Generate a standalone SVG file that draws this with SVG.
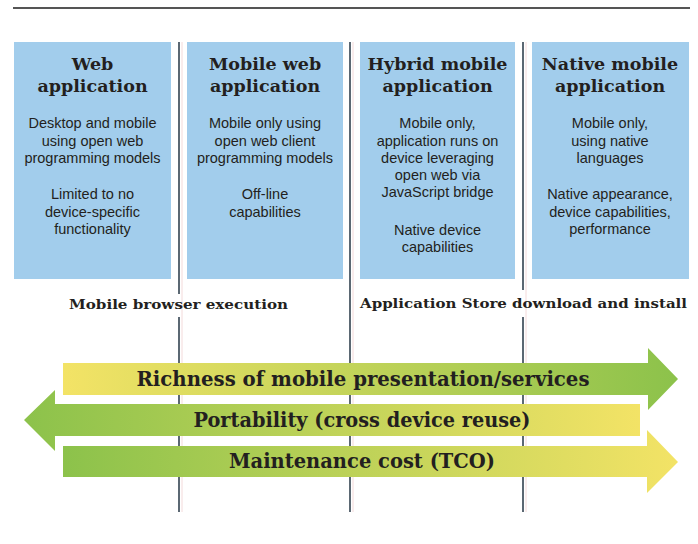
<svg xmlns="http://www.w3.org/2000/svg" width="698" height="544" viewBox="0 0 698 544">
<style>
.box{fill:#a2cdec}
.title{font-family:"DejaVu Serif",serif;font-weight:bold;font-size:17.5px;fill:#231f20;text-anchor:middle}
.body{font-family:"Liberation Sans",Arial,sans-serif;font-size:14.5px;fill:#231f20;text-anchor:middle}
.sect{font-family:"DejaVu Serif",serif;font-weight:bold;font-size:13px;fill:#231f20}
.arrtxt{font-family:"DejaVu Serif",serif;font-weight:bold;font-size:20px;fill:#231f20;text-anchor:middle}
.vline{stroke:#5b6873;stroke-width:2;fill:none}
.vpink{stroke:#f3dada;stroke-width:1;fill:none}
</style>
<defs>
<linearGradient id="ygr" x1="0" y1="0" x2="1" y2="0">
<stop offset="0" stop-color="#f3e366"/>
<stop offset="1" stop-color="#8cc24b"/>
</linearGradient>
<linearGradient id="gry" x1="0" y1="0" x2="1" y2="0">
<stop offset="0" stop-color="#8cc24b"/>
<stop offset="1" stop-color="#f3e366"/>
</linearGradient>
</defs>
<rect width="698" height="544" fill="#ffffff"/>
<line x1="13" y1="8" x2="690" y2="8" stroke="#555" stroke-width="2"/>

<g id="dividers">
<line class="vpink" x1="182" y1="42" x2="182" y2="512"/>
<line class="vpink" x1="353" y1="42" x2="353" y2="512"/>
<line class="vpink" x1="526" y1="42" x2="526" y2="512"/>
<path class="vline" d="M179 42V294M179 317V512"/>
<path class="vline" d="M350 42V512"/>
<path class="vline" d="M523 42V290M523 317V512"/>
</g>

<g id="web-application">
<rect class="box" x="14" y="42" width="157" height="237"/>
<text class="title" x="92.5" y="70">Web</text>
<text class="title" x="92.5" y="92">application</text>
<text class="body" x="92.5" y="128">Desktop and mobile</text>
<text class="body" x="92.5" y="146">using open web</text>
<text class="body" x="92.5" y="163">programming models</text>
<text class="body" x="92.5" y="199">Limited to no</text>
<text class="body" x="92.5" y="217">device-specific</text>
<text class="body" x="92.5" y="234">functionality</text>
</g>

<g id="mobile-web-application">
<rect class="box" x="187" y="42" width="156" height="237"/>
<text class="title" x="265" y="70">Mobile web</text>
<text class="title" x="265" y="92">application</text>
<text class="body" x="265" y="128">Mobile only using</text>
<text class="body" x="265" y="146">open web client</text>
<text class="body" x="265" y="163">programming models</text>
<text class="body" x="265" y="199">Off-line</text>
<text class="body" x="265" y="217">capabilities</text>
</g>

<g id="hybrid-mobile-application">
<rect class="box" x="360" y="42" width="155" height="237"/>
<text class="title" x="437.5" y="70">Hybrid mobile</text>
<text class="title" x="437.5" y="92">application</text>
<text class="body" x="437.5" y="128">Mobile only,</text>
<text class="body" x="437.5" y="146">application runs on</text>
<text class="body" x="437.5" y="163">device leveraging</text>
<text class="body" x="437.5" y="180">open web via</text>
<text class="body" x="437.5" y="197">JavaScript bridge</text>
<text class="body" x="437.5" y="235">Native device</text>
<text class="body" x="437.5" y="252">capabilities</text>
</g>

<g id="native-mobile-application">
<rect class="box" x="532" y="42" width="157" height="237"/>
<text class="title" x="610" y="70">Native mobile</text>
<text class="title" x="610" y="92">application</text>
<text class="body" x="610" y="128">Mobile only,</text>
<text class="body" x="610" y="146">using native</text>
<text class="body" x="610" y="163">languages</text>
<text class="body" x="610" y="199">Native appearance,</text>
<text class="body" x="610" y="217">device capabilities,</text>
<text class="body" x="610" y="234">performance</text>
</g>

<g id="section-labels">
<text class="sect" x="69" y="309" textLength="219" lengthAdjust="spacingAndGlyphs">Mobile browser execution</text>
<text class="sect" x="360" y="308" textLength="327" lengthAdjust="spacingAndGlyphs">Application Store download and install</text>
</g>

<g id="connectors">
<g id="arrow-richness">
<path d="M63 363H648V348L678 379L648 410V395H63Z" fill="url(#ygr)"/>
<text class="arrtxt" x="363" y="386" textLength="453" lengthAdjust="spacingAndGlyphs">Richness of mobile presentation/services</text>
</g>
<g id="arrow-portability">
<path d="M640 404H55V390L24 420L55 451V436H640Z" fill="url(#gry)"/>
<text class="arrtxt" x="362" y="427" textLength="337" lengthAdjust="spacingAndGlyphs">Portability (cross device reuse)</text>
</g>
<g id="arrow-maintenance">
<path d="M63 446H647V430L678 462L647 493V477H63Z" fill="url(#gry)"/>
<text class="arrtxt" x="362" y="468" textLength="266" lengthAdjust="spacingAndGlyphs">Maintenance cost (TCO)</text>
</g>
</g>
</svg>
